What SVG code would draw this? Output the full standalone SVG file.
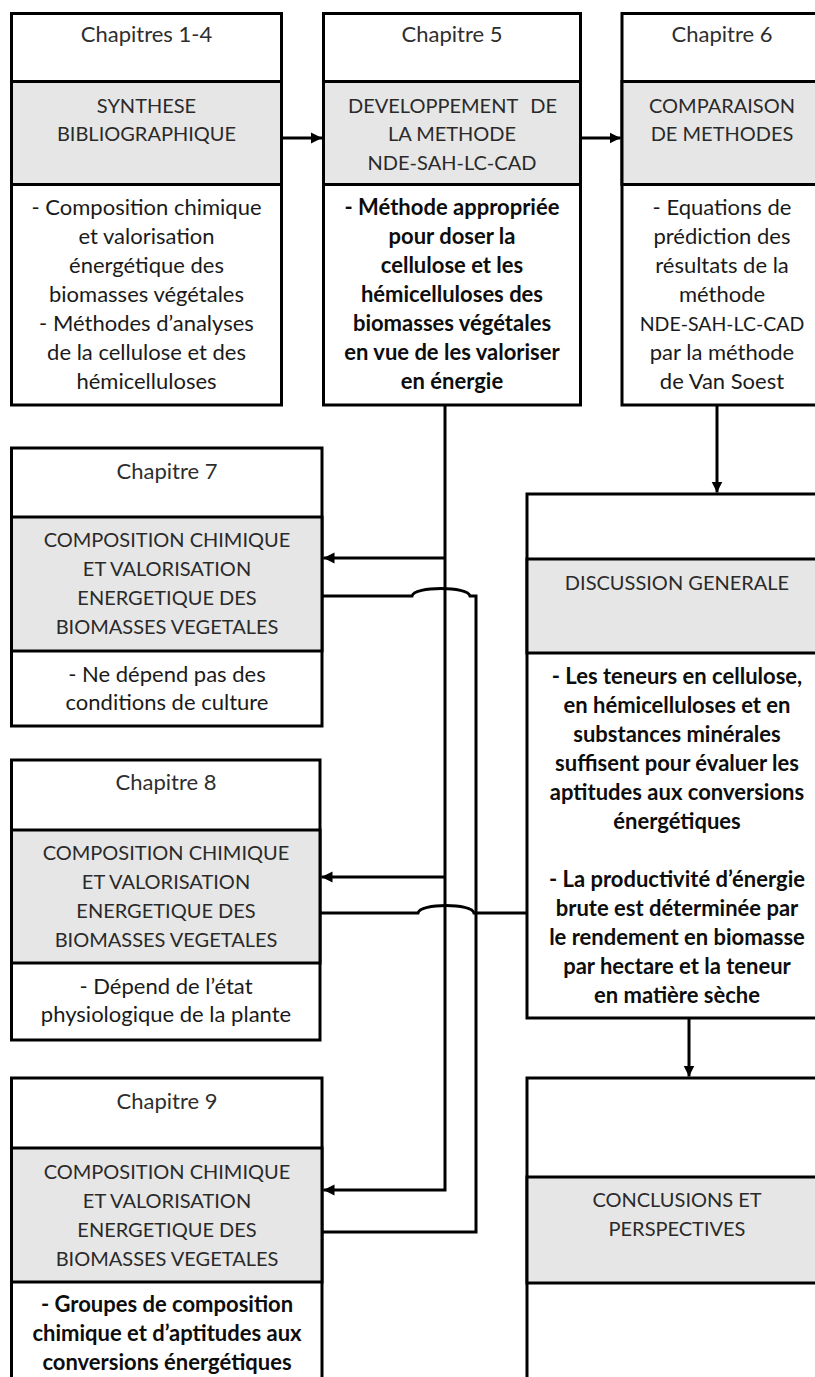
<svg xmlns="http://www.w3.org/2000/svg" width="815" height="1377" viewBox="0 0 815 1377">
  <style>
    .frame { fill: #ffffff; stroke: #000000; stroke-width: 3; }
    .band { fill: #e6e6e6; stroke: #000000; stroke-width: 3; }
    .wire { fill: none; stroke: #000000; stroke-width: 3; }
    text { font-family: Lato, "Open Sans", "Liberation Sans", sans-serif; font-size: 22px; text-anchor: middle; }
    .hd { fill: #2e2e2e; }
    .ttl { fill: #2a2a2a; font-size: 20px; }
    .txt { fill: #1a1a1a; }
    .caps { font-size: 19.5px; }
    .b { fill: #0d0d0d; font-weight: bold; }
  </style>
  <defs>
    <marker id="arrow" viewBox="0 0 12 12" refX="11" refY="6" markerWidth="12" markerHeight="12" markerUnits="userSpaceOnUse" orient="auto">
      <path d="M0,0.5 L11,6 L0,11.5 z" fill="#000000"/>
    </marker>
  </defs>
  <rect width="815" height="1377" fill="#ffffff"/>

  <!-- connectors -->
  <g id="connectors">
    <path class="wire" d="M281.5,138 H322" marker-end="url(#arrow)"/>
    <path class="wire" d="M580.5,138 H620.5" marker-end="url(#arrow)"/>
    <path class="wire" d="M717,405 V492.5" marker-end="url(#arrow)"/>
    <path class="wire" d="M689,1018 V1076.5" marker-end="url(#arrow)"/>
    <!-- chapter 5 feeds chapters 7, 8 and 9 -->
    <path class="wire" d="M445,405 V1190 H323.5" marker-end="url(#arrow)"/>
    <path class="wire" d="M445,558 H323.5" marker-end="url(#arrow)"/>
    <path class="wire" d="M445,877 H321.5" marker-end="url(#arrow)"/>
    <!-- chapters 7, 8 and 9 gather into the general discussion -->
    <path class="wire" d="M322,596 H412 C414,586 468,586 470,596 H476 V1232 H322"/>
    <path class="wire" d="M320,913 H418 C420,903 472,903 474,913 H527"/>
  </g>

  <g id="ch1-4">
    <rect class="frame" x="11.5" y="13.5" width="270" height="391.5"/>
    <rect class="band" x="11.5" y="81.5" width="270" height="103"/>
    <text class="hd" x="146.5" y="42">Chapitres 1-4</text>
    <text class="ttl" x="146.5" y="113">SYNTHESE</text>
    <text class="ttl" x="146.5" y="141">BIBLIOGRAPHIQUE</text>
    <text class="txt" x="146.5" y="215">- Composition chimique</text>
    <text class="txt" x="146.5" y="244">et valorisation</text>
    <text class="txt" x="146.5" y="273">énergétique des</text>
    <text class="txt" x="146.5" y="302">biomasses végétales</text>
    <text class="txt" x="146.5" y="331">- Méthodes d’analyses</text>
    <text class="txt" x="146.5" y="360">de la cellulose et des</text>
    <text class="txt" x="146.5" y="389">hémicelluloses</text>
  </g>

  <g id="ch5">
    <rect class="frame" x="323.5" y="13.5" width="257" height="391.5"/>
    <rect class="band" x="323.5" y="81.5" width="257" height="103"/>
    <text class="hd" x="452" y="42">Chapitre 5</text>
    <text class="ttl"><tspan x="348" y="113" style="text-anchor:start">DEVELOPPEMENT</tspan><tspan x="557" y="113" style="text-anchor:end">DE</tspan></text>
    <text class="ttl" x="452" y="141">LA METHODE</text>
    <text class="ttl" x="452" y="170">NDE-SAH-LC-CAD</text>
    <text class="b" x="452" y="215">- Méthode appropriée</text>
    <text class="b" x="452" y="244">pour doser la</text>
    <text class="b" x="452" y="273">cellulose et les</text>
    <text class="b" x="452" y="302">hémicelluloses des</text>
    <text class="b" x="452" y="331">biomasses végétales</text>
    <text class="b" x="452" y="360">en vue de les valoriser</text>
    <text class="b" x="452" y="389">en énergie</text>
  </g>

  <g id="ch6">
    <rect class="frame" x="622" y="13.5" width="204" height="391.5"/>
    <rect class="band" x="622" y="81.5" width="204" height="103"/>
    <text class="hd" x="722" y="42">Chapitre 6</text>
    <text class="ttl" x="722" y="113">COMPARAISON</text>
    <text class="ttl" x="722" y="141">DE METHODES</text>
    <text class="txt" x="722" y="215">- Equations de</text>
    <text class="txt" x="722" y="244">prédiction des</text>
    <text class="txt" x="722" y="273">résultats de la</text>
    <text class="txt" x="722" y="302">méthode</text>
    <text class="txt caps" x="722" y="331">NDE-SAH-LC-CAD</text>
    <text class="txt" x="722" y="360">par la méthode</text>
    <text class="txt" x="722" y="389">de Van Soest</text>
  </g>

  <g id="ch7">
    <rect class="frame" x="11.5" y="448" width="310.5" height="278"/>
    <rect class="band" x="11.5" y="517" width="310.5" height="134"/>
    <text class="hd" x="167" y="479">Chapitre 7</text>
    <text class="ttl" x="167" y="547">COMPOSITION CHIMIQUE</text>
    <text class="ttl" x="167" y="576">ET VALORISATION</text>
    <text class="ttl" x="167" y="605">ENERGETIQUE DES</text>
    <text class="ttl" x="167" y="634">BIOMASSES VEGETALES</text>
    <text class="txt" x="167" y="682">- Ne dépend pas des</text>
    <text class="txt" x="167" y="710">conditions de culture</text>
  </g>

  <g id="ch8">
    <rect class="frame" x="11.5" y="760" width="308.5" height="280"/>
    <rect class="band" x="11.5" y="830" width="308.5" height="133"/>
    <text class="hd" x="166" y="790">Chapitre 8</text>
    <text class="ttl" x="166" y="860">COMPOSITION CHIMIQUE</text>
    <text class="ttl" x="166" y="889">ET VALORISATION</text>
    <text class="ttl" x="166" y="918">ENERGETIQUE DES</text>
    <text class="ttl" x="166" y="947">BIOMASSES VEGETALES</text>
    <text class="txt" x="166" y="994">- Dépend de l’état</text>
    <text class="txt" x="166" y="1022">physiologique de la plante</text>
  </g>

  <g id="ch9">
    <rect class="frame" x="11.5" y="1078" width="310.5" height="320"/>
    <rect class="band" x="11.5" y="1148" width="310.5" height="134"/>
    <text class="hd" x="167" y="1109">Chapitre 9</text>
    <text class="ttl" x="167" y="1179">COMPOSITION CHIMIQUE</text>
    <text class="ttl" x="167" y="1208">ET VALORISATION</text>
    <text class="ttl" x="167" y="1237">ENERGETIQUE DES</text>
    <text class="ttl" x="167" y="1266">BIOMASSES VEGETALES</text>
    <text class="b" x="167" y="1312">- Groupes de composition</text>
    <text class="b" x="167" y="1341">chimique et d’aptitudes aux</text>
    <text class="b" x="167" y="1370">conversions énergétiques</text>
  </g>

  <g id="discussion">
    <rect class="frame" x="527" y="494" width="300" height="524"/>
    <rect class="band" x="527" y="559" width="300" height="94"/>
    <text class="ttl" x="677" y="590">DISCUSSION GENERALE</text>
    <text class="b" x="677" y="684">- Les teneurs en cellulose,</text>
    <text class="b" x="677" y="713">en hémicelluloses et en</text>
    <text class="b" x="677" y="742">substances minérales</text>
    <text class="b" x="677" y="771">suffisent pour évaluer les</text>
    <text class="b" x="677" y="800">aptitudes aux conversions</text>
    <text class="b" x="677" y="829">énergétiques</text>
    <text class="b" x="677" y="887">- La productivité d’énergie</text>
    <text class="b" x="677" y="916">brute est déterminée par</text>
    <text class="b" x="677" y="945">le rendement en biomasse</text>
    <text class="b" x="677" y="974">par hectare et la teneur</text>
    <text class="b" x="677" y="1003">en matière sèche</text>
  </g>

  <g id="conclusions">
    <rect class="frame" x="527" y="1078" width="300" height="320"/>
    <rect class="band" x="527" y="1177" width="300" height="106"/>
    <text class="ttl" x="677" y="1207">CONCLUSIONS ET</text>
    <text class="ttl" x="677" y="1236">PERSPECTIVES</text>
  </g>
</svg>
